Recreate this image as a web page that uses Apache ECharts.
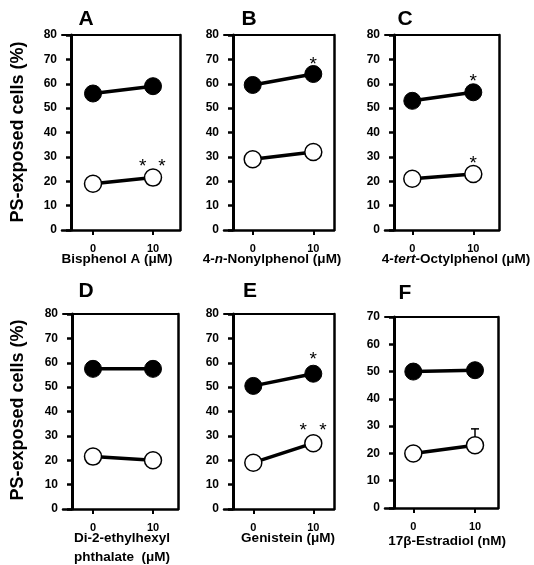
<!DOCTYPE html>
<html>
<head>
<meta charset="utf-8">
<script src="https://cdn.jsdelivr.net/npm/echarts@6/dist/echarts.min.js"></script>
<style>html,body{margin:0;padding:0;background:#fff}#c{width:534px;height:565px}</style>
</head>
<body>
<div id="c"></div>
<script>
// ---------- data ----------
const doses = [0, 10];
const tickLabelsX = [0, 10];
const panelLetters = ['A', 'B', 'C', 'D', 'E', 'F'];
const filledA = [56, 59];     const openA = [19, 21.5];
const filledB = [59.5, 64];   const openB = [29, 32];
const filledC = [53, 56.5];   const openC = [21, 23];
const filledD = [57.5, 57.5]; const openD = [21.5, 20];
const filledE = [50.5, 55.5]; const openE = [19, 27];
const filledF = [50, 50.5];   const openF = [20, 23];
const errorF = [[10, 23, 29]];            // x, mean, upper error
const yMaxes = [80, 80, 80, 80, 80, 70];
// asterisk annotations [x, y]
const starsA = [[8.3, 27.5], [11.5, 27.5]];
const starsB = [[10, 69.5]];
const starsC = [[10, 62.5], [10, 28.7]];
const starsD = [];
const starsE = [[10, 63], [8.3, 33.8], [11.6, 33.8]];
const starsF = [];
const yTitle = 'PS-exposed cells (%)';
const xTitles = [
  '{b|Bisphenol A (μM)}',
  '{b|4-}{i|n}{b|-Nonylphenol (μM)}',
  '{b|4-}{i|tert}{b|-Octylphenol (μM)}',
  '{b|Di-2-ethylhexyl}\n{b|phthalate  (μM)}',
  '{b|Genistein (μM)}',
  '{b|17β-Estradiol (nM)}'
];

const filled = [filledA, filledB, filledC, filledD, filledE, filledF];
const open = [openA, openB, openC, openD, openE, openF];
const stars = [starsA, starsB, starsC, starsD, starsE, starsF];

// ---------- layout (pixels) ----------
// frameLeft, frameRight, top, bottom, px of x=0, px of x=10
const frames = [
  [71, 180, 35, 230, 93, 153],
  [233, 334, 35, 230, 252.7, 313.3],
  [394, 499, 35, 230, 412.3, 473.3],
  [72, 178, 314, 509, 93, 153],
  [233, 334, 314, 509, 253.3, 313.3],
  [394, 498, 317, 508, 413.3, 475]
];
const letterPos = [[86, 19], [249, 19], [405, 19], [86, 291], [250, 291], [405, 293]];
const xTitlePos = [[117, 259], [272, 259], [456, 259], [122, 548], [288, 538], [447, 541]];
const yTitlePos = [[18, 132], [18, 410]];
const TICK_EXT = 9;

const FONT = '"Liberation Sans", Arial, Helvetica, sans-serif';

const grid = [], xAxis = [], yAxis = [], series = [], graphic = [];
frames.forEach((f, i) => {
  const [fl, fr, top, bot, x0, x10] = f;
  const gl = fl - TICK_EXT;
  const u = (x10 - x0) / 10;
  const xmin = (gl - x0) / u;
  const xmax = 10 + (fr - x10) / u;
  grid.push({left: gl, top: top, width: fr - gl, height: bot - top, show: false});
  xAxis.push({
    gridIndex: i, type: 'value', min: xmin, max: xmax, position: 'bottom',
    axisLine: {show: true, onZero: false, lineStyle: {color: '#000', width: 2.5}},
    axisTick: {show: true, customValues: tickLabelsX, length: 5, lineStyle: {color: '#000', width: 2}},
    axisLabel: {show: true, customValues: tickLabelsX, color: '#000', fontFamily: FONT, fontWeight: 'bold', fontSize: 11, margin: 13},
    splitLine: {show: false}
  });
  xAxis.push({
    gridIndex: i, type: 'value', min: xmin, max: xmax, position: 'top',
    axisLine: {show: true, onZero: false, lineStyle: {color: '#000', width: 2}},
    axisTick: {show: false}, axisLabel: {show: false}, splitLine: {show: false}
  });
  yAxis.push({
    gridIndex: i, type: 'value', min: 0, max: yMaxes[i], interval: 10, position: 'left', offset: -TICK_EXT,
    axisLine: {show: true, onZero: false, lineStyle: {color: '#000', width: 3}},
    axisTick: {show: true, length: 5, lineStyle: {color: '#000', width: 2.5}},
    axisLabel: {color: '#000', fontFamily: FONT, fontWeight: 'bold', fontSize: 12, margin: 14},
    splitLine: {show: false}
  });
  yAxis.push({
    gridIndex: i, type: 'value', min: 0, max: yMaxes[i], position: 'right',
    axisLine: {show: true, onZero: false, lineStyle: {color: '#000', width: 2.5}},
    axisTick: {show: false}, axisLabel: {show: false}, splitLine: {show: false}
  });
  const xi = 2 * i, yi = 2 * i;
  series.push({
    type: 'line', xAxisIndex: xi, yAxisIndex: yi, z: 3,
    data: doses.map((d, k) => [d, filled[i][k]]),
    symbol: 'circle', symbolSize: 17,
    itemStyle: {color: '#000', borderColor: '#000', borderWidth: 1},
    lineStyle: {color: '#000', width: 3.5}, animation: false, silent: true
  });
  series.push({
    type: 'line', xAxisIndex: xi, yAxisIndex: yi, z: 3,
    data: doses.map((d, k) => [d, open[i][k]]),
    symbol: 'circle', symbolSize: 17, showAllSymbol: true,
    itemStyle: {color: '#fff', borderColor: '#000', borderWidth: 1.5},
    lineStyle: {color: '#000', width: 3.5}, animation: false, silent: true
  });
  if (stars[i].length) {
    series.push({
      type: 'custom', xAxisIndex: xi, yAxisIndex: yi, z: 4, data: stars[i], animation: false, silent: true,
      renderItem: (params, api) => {
        const p = api.coord([api.value(0), api.value(1)]);
        return {type: 'text', x: p[0], y: p[1] + 4,
          style: {text: '*', fill: '#000', fontFamily: FONT, fontSize: 19, align: 'center', verticalAlign: 'middle'}};
      }
    });
  }
  graphic.push({type: 'text', x: letterPos[i][0], y: letterPos[i][1],
    style: {text: panelLetters[i], fill: '#000', font: 'bold 21px ' + FONT, align: 'center', verticalAlign: 'middle'}});
  graphic.push({type: 'text', x: xTitlePos[i][0], y: xTitlePos[i][1],
    style: {text: xTitles[i], align: 'center', verticalAlign: 'middle', lineHeight: 19,
      rich: {
        b: {fontFamily: FONT, fontWeight: 'bold', fontSize: 13.5, fill: '#000', lineHeight: 19},
        i: {fontFamily: FONT, fontWeight: 'bold', fontStyle: 'italic', fontSize: 13.5, fill: '#000', lineHeight: 19}
      }}});
});

series.push({
  type: 'custom', xAxisIndex: 10, yAxisIndex: 10, z: 2, data: errorF, animation: false, silent: true,
  renderItem: (params, api) => {
    const x = api.value(0);
    const lo = api.coord([x, api.value(1)]);
    const hi = api.coord([x, api.value(2)]);
    return {type: 'group', children: [
      {type: 'line', shape: {x1: lo[0], y1: lo[1], x2: hi[0], y2: hi[1]}, style: {stroke: '#000', lineWidth: 1.5}},
      {type: 'line', shape: {x1: hi[0] - 4, y1: hi[1], x2: hi[0] + 4, y2: hi[1]}, style: {stroke: '#000', lineWidth: 1.5}}
    ]};
  }
});

yTitlePos.forEach(p => {
  graphic.push({type: 'text', x: p[0], y: p[1], rotation: Math.PI / 2,
    style: {text: yTitle, fill: '#000', font: 'bold 18px ' + FONT, align: 'center', verticalAlign: 'middle'}});
});

const chart = echarts.init(document.getElementById('c'), null, {renderer: 'canvas'});
chart.setOption({animation: false, backgroundColor: '#fff', grid, xAxis, yAxis, series, graphic});
</script>
</body>
</html>
